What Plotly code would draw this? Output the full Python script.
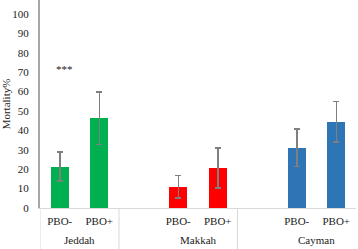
import plotly.graph_objects as go

# ---- data ----
groups = ["Jeddah", "Makkah", "Cayman"]
treatments = ["PBO-", "PBO+"]
mortality = {
    "Jeddah": [21.3, 46.2],
    "Makkah": [11.0, 20.6],
    "Cayman": [31.1, 44.5],
}
errors = {
    "Jeddah": [7.5, 13.5],
    "Makkah": [5.8, 10.2],
    "Cayman": [9.7, 10.4],
}
colors = {"Jeddah": "#00B050", "Makkah": "#FF0000", "Cayman": "#2E75B6"}
y_ticks = list(range(0, 101, 10))
signif_label = "***"
signif_value = 71.6

FONT = "Liberation Serif"

fig = go.Figure()
slot = 0
tick_pos, tick_text, group_centers, separators = [], [], [], [-0.5]
for gi, g in enumerate(groups):
    xs = [slot + i for i in range(len(treatments))]
    fig.add_trace(go.Bar(
        x=xs, y=mortality[g], width=0.46,
        marker=dict(color=colors[g], line=dict(width=0)),
        error_y=dict(type="data", array=errors[g], color="#7f7f7f",
                     thickness=1.5, width=3),
        name=g, showlegend=False,
    ))
    tick_pos += xs
    tick_text += treatments
    group_centers.append(sum(xs) / len(xs))
    slot += len(treatments) + 1
    if gi < len(groups) - 1:
        separators.append(slot - 1.5)

fig.update_layout(
    width=358, height=249,
    margin=dict(l=40, r=2, t=0, b=41),
    paper_bgcolor="white", plot_bgcolor="white",
    font=dict(family=FONT, size=11, color="#222"),
    bargap=0,
)
fig.update_xaxes(
    range=[-0.5, 7.5], tickvals=tick_pos, ticktext=tick_text,
    showgrid=False, zeroline=False, showline=True, linecolor="#d9d9d9",
    linewidth=1, ticks="", ticklabelstandoff=3,
    tickfont=dict(family=FONT, size=11, color="#222"),
)
fig.update_yaxes(
    range=[0, 107.2], tickvals=y_ticks, showgrid=False, zeroline=False,
    showline=True, linecolor="#a6a6a6", linewidth=2, ticks="",
    ticklabelstandoff=7,
    tickfont=dict(family=FONT, size=11, color="#222"),
    title=dict(text="Mortality%", standoff=2,
               font=dict(family=FONT, size=11, color="#222")),
)

for gx, g in zip(group_centers, groups):
    fig.add_annotation(x=gx, xref="x", y=-0.155, yref="paper", text=g,
                       showarrow=False, yanchor="middle",
                       font=dict(family=FONT, size=11, color="#222"))
for sx in separators:
    fig.add_shape(type="line", xref="x", yref="paper", x0=sx, x1=sx,
                  y0=0, y1=-0.2, line=dict(color="#d9d9d9", width=1))

fig.add_annotation(x=0.13, xref="x", y=signif_value, yref="y",
                   text=signif_label, showarrow=False,
                   font=dict(family=FONT, size=11, color="#222"))

fig.write_html("out.html", config={"displayModeBar": False},
               post_script="document.body.style.margin='0';document.body.style.padding='0';")
